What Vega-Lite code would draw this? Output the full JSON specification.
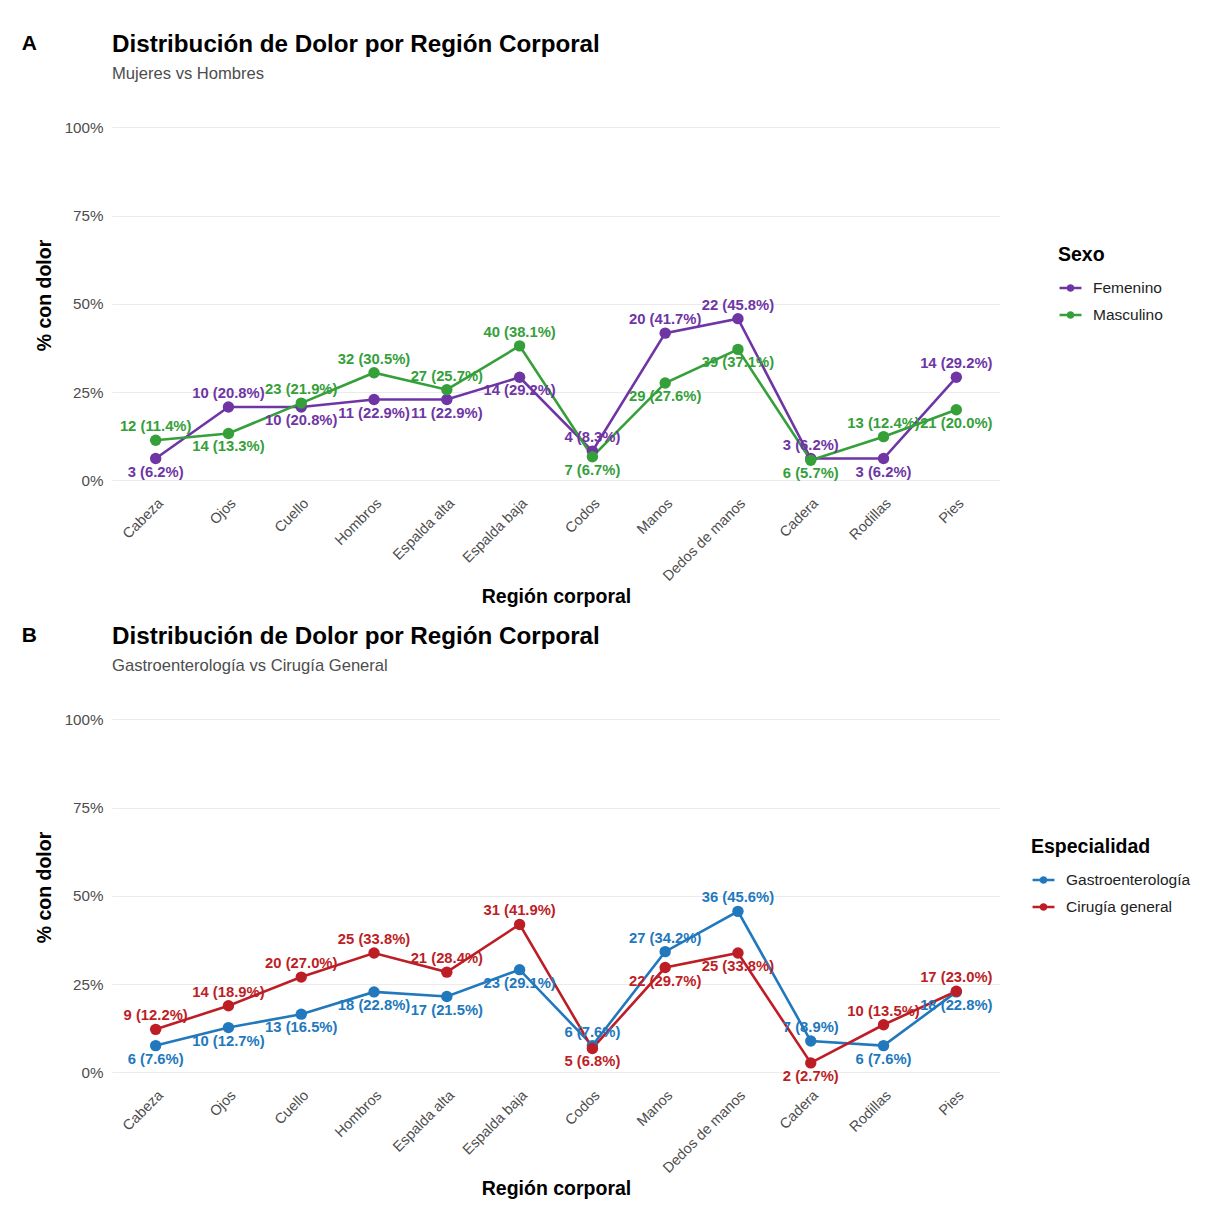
{
  "$schema": "https://vega.github.io/schema/vega-lite/v6.json",
  "background": "white",
  "padding": {"left": 21, "top": 33, "right": 5, "bottom": 5},
  "datasets": {
    "sexo": [
      {"region": "Cabeza", "grupo": "Femenino", "n": 3, "pct": 6.2},
      {"region": "Ojos", "grupo": "Femenino", "n": 10, "pct": 20.8},
      {"region": "Cuello", "grupo": "Femenino", "n": 10, "pct": 20.8},
      {"region": "Hombros", "grupo": "Femenino", "n": 11, "pct": 22.9},
      {"region": "Espalda alta", "grupo": "Femenino", "n": 11, "pct": 22.9},
      {"region": "Espalda baja", "grupo": "Femenino", "n": 14, "pct": 29.2},
      {"region": "Codos", "grupo": "Femenino", "n": 4, "pct": 8.3},
      {"region": "Manos", "grupo": "Femenino", "n": 20, "pct": 41.7},
      {"region": "Dedos de manos", "grupo": "Femenino", "n": 22, "pct": 45.8},
      {"region": "Cadera", "grupo": "Femenino", "n": 3, "pct": 6.2},
      {"region": "Rodillas", "grupo": "Femenino", "n": 3, "pct": 6.2},
      {"region": "Pies", "grupo": "Femenino", "n": 14, "pct": 29.2},
      {"region": "Cabeza", "grupo": "Masculino", "n": 12, "pct": 11.4},
      {"region": "Ojos", "grupo": "Masculino", "n": 14, "pct": 13.3},
      {"region": "Cuello", "grupo": "Masculino", "n": 23, "pct": 21.9},
      {"region": "Hombros", "grupo": "Masculino", "n": 32, "pct": 30.5},
      {"region": "Espalda alta", "grupo": "Masculino", "n": 27, "pct": 25.7},
      {"region": "Espalda baja", "grupo": "Masculino", "n": 40, "pct": 38.1},
      {"region": "Codos", "grupo": "Masculino", "n": 7, "pct": 6.7},
      {"region": "Manos", "grupo": "Masculino", "n": 29, "pct": 27.6},
      {"region": "Dedos de manos", "grupo": "Masculino", "n": 39, "pct": 37.1},
      {"region": "Cadera", "grupo": "Masculino", "n": 6, "pct": 5.7},
      {"region": "Rodillas", "grupo": "Masculino", "n": 13, "pct": 12.4},
      {"region": "Pies", "grupo": "Masculino", "n": 21, "pct": 20.0}
    ],
    "esp": [
      {"region": "Cabeza", "grupo": "Gastroenterología", "n": 6, "pct": 7.6},
      {"region": "Ojos", "grupo": "Gastroenterología", "n": 10, "pct": 12.7},
      {"region": "Cuello", "grupo": "Gastroenterología", "n": 13, "pct": 16.5},
      {"region": "Hombros", "grupo": "Gastroenterología", "n": 18, "pct": 22.8},
      {"region": "Espalda alta", "grupo": "Gastroenterología", "n": 17, "pct": 21.5},
      {"region": "Espalda baja", "grupo": "Gastroenterología", "n": 23, "pct": 29.1},
      {"region": "Codos", "grupo": "Gastroenterología", "n": 6, "pct": 7.6},
      {"region": "Manos", "grupo": "Gastroenterología", "n": 27, "pct": 34.2},
      {"region": "Dedos de manos", "grupo": "Gastroenterología", "n": 36, "pct": 45.6},
      {"region": "Cadera", "grupo": "Gastroenterología", "n": 7, "pct": 8.9},
      {"region": "Rodillas", "grupo": "Gastroenterología", "n": 6, "pct": 7.6},
      {"region": "Pies", "grupo": "Gastroenterología", "n": 18, "pct": 22.8},
      {"region": "Cabeza", "grupo": "Cirugía general", "n": 9, "pct": 12.2},
      {"region": "Ojos", "grupo": "Cirugía general", "n": 14, "pct": 18.9},
      {"region": "Cuello", "grupo": "Cirugía general", "n": 20, "pct": 27.0},
      {"region": "Hombros", "grupo": "Cirugía general", "n": 25, "pct": 33.8},
      {"region": "Espalda alta", "grupo": "Cirugía general", "n": 21, "pct": 28.4},
      {"region": "Espalda baja", "grupo": "Cirugía general", "n": 31, "pct": 41.9},
      {"region": "Codos", "grupo": "Cirugía general", "n": 5, "pct": 6.8},
      {"region": "Manos", "grupo": "Cirugía general", "n": 22, "pct": 29.7},
      {"region": "Dedos de manos", "grupo": "Cirugía general", "n": 25, "pct": 33.8},
      {"region": "Cadera", "grupo": "Cirugía general", "n": 2, "pct": 2.7},
      {"region": "Rodillas", "grupo": "Cirugía general", "n": 10, "pct": 13.5},
      {"region": "Pies", "grupo": "Cirugía general", "n": 17, "pct": 23.0}
    ]
  },
  "spacing": 19,
  "vconcat": [
    {
      "title": {"text": "A", "orient": "left", "angle": 0, "anchor": "end", "fontSize": 21, "fontWeight": "bold", "color": "black", "offset": -18, "baseline": "top"},
      "vconcat": [
        {
          "width": 888,
          "height": 408,
          "title": {"text": "Distribución de Dolor por Región Corporal", "subtitle": "Mujeres vs Hombres", "anchor": "start", "frame": "group"},
          "data": {"name": "sexo"},
          "transform": [
            {"calculate": "datum.n + ' (' + format(datum.pct, '.1f') + '%)'", "as": "label"},
            {"joinaggregate": [{"op": "max", "field": "pct", "as": "maxpct"}], "groupby": ["region"]}
          ],
          "encoding": {
            "x": {"field": "region", "type": "nominal", "title": "Región corporal",
                  "sort": ["Cabeza", "Ojos", "Cuello", "Hombros", "Espalda alta", "Espalda baja", "Codos", "Manos", "Dedos de manos", "Cadera", "Rodillas", "Pies"],
                  "scale": {"type": "point", "padding": 0.6},
                  "axis": {"labelAngle": -45, "labelAlign": "right", "labelBaseline": "top", "labelPadding": -3, "titlePadding": 4, "labelFontSize": 14.5}},
            "y": {"field": "pct", "type": "quantitative", "title": "% con dolor",
                  "scale": {"domain": [-5.25, 110.25], "nice": false, "zero": false},
                  "axis": {"values": [0, 25, 50, 75, 100], "labelExpr": "datum.value + '%'", "labelPadding": 9, "titlePadding": 10}},
            "color": {"field": "grupo", "type": "nominal", "title": "Sexo",
                      "scale": {"domain": ["Femenino", "Masculino"], "range": ["#6f35a5", "#35a03a"]},
                      "legend": {"orient": "none", "legendX": 946, "legendY": 155}}
          },
          "layer": [
            {"mark": {"type": "line", "strokeWidth": 2.6}},
            {"mark": {"type": "point", "filled": true, "size": 130, "opacity": 1}},
            {"transform": [{"filter": "datum.pct >= datum.maxpct"}],
             "mark": {"type": "text", "dy": -13, "fontSize": 14.8, "fontWeight": "bold", "baseline": "middle"},
             "encoding": {"text": {"field": "label"}}},
            {"transform": [{"filter": "datum.pct < datum.maxpct"}],
             "mark": {"type": "text", "dy": 14, "fontSize": 14.8, "fontWeight": "bold", "baseline": "middle"},
             "encoding": {"text": {"field": "label"}}}
          ]
        }
      ]
    },
    {
      "title": {"text": "B", "orient": "left", "angle": 0, "anchor": "end", "fontSize": 21, "fontWeight": "bold", "color": "black", "offset": -18, "baseline": "top"},
      "vconcat": [
        {
          "width": 888,
          "height": 408,
          "title": {"text": "Distribución de Dolor por Región Corporal", "subtitle": "Gastroenterología vs Cirugía General", "anchor": "start", "frame": "group"},
          "data": {"name": "esp"},
          "transform": [
            {"calculate": "datum.n + ' (' + format(datum.pct, '.1f') + '%)'", "as": "label"},
            {"joinaggregate": [{"op": "max", "field": "pct", "as": "maxpct"}], "groupby": ["region"]}
          ],
          "encoding": {
            "x": {"field": "region", "type": "nominal", "title": "Región corporal",
                  "sort": ["Cabeza", "Ojos", "Cuello", "Hombros", "Espalda alta", "Espalda baja", "Codos", "Manos", "Dedos de manos", "Cadera", "Rodillas", "Pies"],
                  "scale": {"type": "point", "padding": 0.6},
                  "axis": {"labelAngle": -45, "labelAlign": "right", "labelBaseline": "top", "labelPadding": -3, "titlePadding": 4, "labelFontSize": 14.5}},
            "y": {"field": "pct", "type": "quantitative", "title": "% con dolor",
                  "scale": {"domain": [-5.25, 110.25], "nice": false, "zero": false},
                  "axis": {"values": [0, 25, 50, 75, 100], "labelExpr": "datum.value + '%'", "labelPadding": 9, "titlePadding": 10}},
            "color": {"field": "grupo", "type": "nominal", "title": "Especialidad",
                      "scale": {"domain": ["Gastroenterología", "Cirugía general"], "range": ["#2178bd", "#bd1e26"]},
                      "legend": {"orient": "none", "legendX": 919, "legendY": 155}}
          },
          "layer": [
            {"mark": {"type": "line", "strokeWidth": 2.6}},
            {"mark": {"type": "point", "filled": true, "size": 130, "opacity": 1}},
            {"transform": [{"filter": "datum.pct >= datum.maxpct"}],
             "mark": {"type": "text", "dy": -13, "fontSize": 14.8, "fontWeight": "bold", "baseline": "middle"},
             "encoding": {"text": {"field": "label"}}},
            {"transform": [{"filter": "datum.pct < datum.maxpct"}],
             "mark": {"type": "text", "dy": 14, "fontSize": 14.8, "fontWeight": "bold", "baseline": "middle"},
             "encoding": {"text": {"field": "label"}}}
          ]
        }
      ]
    }
  ],
  "resolve": {"scale": {"color": "independent"}, "legend": {"color": "independent"}},
  "config": {
    "font": "Liberation Sans",
    "view": {"stroke": null},
    "axis": {"domain": false, "ticks": false, "gridColor": "#ebebeb", "gridWidth": 1.1, "labelColor": "#4d4d4d", "labelFontSize": 15.2, "labelFont": "Liberation Sans", "titleFontSize": 19.5, "titleFontWeight": "bold", "titleColor": "black", "titleFont": "Liberation Sans"},
    "title": {"fontSize": 24.2, "fontWeight": "bold", "color": "black", "subtitleFontSize": 16.6, "subtitleColor": "#4d4d4d", "subtitlePadding": 9, "offset": 8, "font": "Liberation Sans", "subtitleFont": "Liberation Sans"},
    "legend": {"titleFontSize": 19.5, "titleFontWeight": "bold", "titleColor": "black", "titlePadding": 10, "labelFontSize": 15.5, "labelColor": "#222222", "labelOffset": 10, "rowPadding": 6,
               "symbolType": "M-1,0L1,0M0.23,0A0.23,0.23,0,1,1,-0.23,0A0.23,0.23,0,1,1,0.23,0Z", "symbolSize": 480, "symbolStrokeWidth": 2.6}
  }
}
